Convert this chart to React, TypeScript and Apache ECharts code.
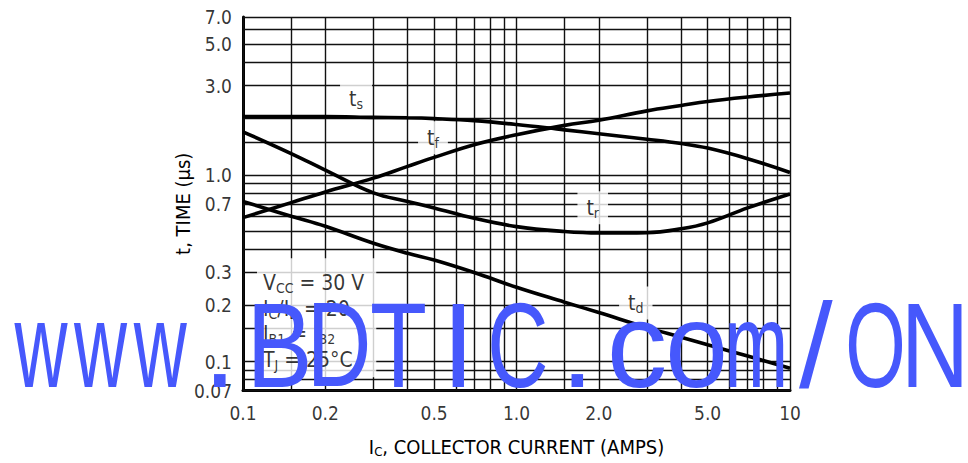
import React, { useEffect, useRef } from 'react';
import * as echarts from 'echarts';

// ---- data ----
const xGrid = [0.1, 0.15, 0.2, 0.3, 0.4, 0.5, 0.6, 0.7, 0.8, 0.9, 1, 1.5, 2, 3, 4, 5, 6, 7, 8, 9, 10];
const yGrid = [0.07, 0.08, 0.09, 0.1, 0.15, 0.2, 0.3, 0.4, 0.5, 0.6, 0.7, 0.8, 0.9, 1, 1.5, 2, 3, 4, 5, 6, 7];
const xTickLabels = ['0.1', '0.2', '0.5', '1.0', '2.0', '5.0', '10'];
const yTickLabels = ['0.07', '0.1', '0.2', '0.3', '0.7', '1.0', '3.0', '5.0', '7.0'];

const current = [0.1, 0.15, 0.2, 0.3, 0.4, 0.5, 0.7, 1, 1.5, 2, 3, 4, 5, 7, 10];
const tS = [2.05, 2.05, 2.05, 2.03, 2.02, 2.0, 1.95, 1.86, 1.74, 1.66, 1.55, 1.47, 1.39, 1.22, 1.03];
const tF = [0.59, 0.71, 0.81, 0.96, 1.11, 1.24, 1.45, 1.64, 1.84, 1.96, 2.2, 2.35, 2.47, 2.61, 2.74];
const tR = [1.7, 1.3, 1.06, 0.8, 0.72, 0.665, 0.585, 0.528, 0.497, 0.488, 0.49, 0.514, 0.553, 0.665, 0.79];
const tD = [0.72, 0.6, 0.53, 0.43, 0.38, 0.35, 0.3, 0.25, 0.208, 0.183, 0.152, 0.135, 0.123, 0.107, 0.092];

// annotation anchors (data coordinates)
const curveNames = ['ts', 'tf', 'tr', 'td'];
const curveLabelX = [0.259, 0.495, 1.9, 2.73];
const curveLabelY = [2.55, 1.58, 0.667, 0.206];
const conditionsAt = [0.1125, 0.357];

const watermark = 'www.BDTIC.com/ON';

const FONT = '"Liberation Sans Narrow", "Arial Narrow", "DejaVu Sans Condensed", "Liberation Sans", sans-serif';
const BLUE = '#4658fc';

function richStyles(size: number, sub: number, drop: number, lh: number) {
  return {
    m: { fontSize: size, fontFamily: FONT, color: '#000', lineHeight: lh },
    s: { fontSize: sub, fontFamily: FONT, color: '#000', lineHeight: sub, padding: [drop, 0, 0, 0] },
  };
}

function pairs(ys: number[]) {
  return current.map((x, i) => [x, ys[i]]);
}

export default function App() {
  const ref = useRef<HTMLDivElement>(null);
  useEffect(() => {
    document.body.style.margin = '0';
    if (!ref.current) return;
    const chart = echarts.init(ref.current, undefined, { renderer: 'svg' });

    const xMin = xGrid[0], xMax = xGrid[xGrid.length - 1];
    const yMin = yGrid[0], yMax = yGrid[yGrid.length - 1];

    // watermark glyph scaling (monospaced look)
    const canvas = document.createElement('canvas');
    const ctx = canvas.getContext('2d')!;
    const wmSize = 121;
    ctx.font = `${wmSize}px "Liberation Sans"`;
    const wmChars = watermark.split('').map((ch, i) => {
      const m = ctx.measureText(ch);
      const ink = (m.actualBoundingBoxLeft || 0) + (m.actualBoundingBoxRight || m.width);
      const s = '.I/'.includes(ch) ? 1 : Math.min(1, 54 / ink);
      return {
        type: 'text',
        x: 41 + 59.6 * i,
        y: 345,
        scaleX: s,
        z: 100,
        silent: true,
        style: {
          text: ch,
          fill: BLUE,
          font: `${wmSize}px "Liberation Sans", Arial, sans-serif`,
          align: 'center',
          verticalAlign: 'middle',
        },
      };
    });

    const curveRich = richStyles(21, 14, 10, 21);
    const labelsSub: Record<string, string> = {
      ts: '{m|t}{s|s}', tf: '{m|t}{s|f}', tr: '{m|t}{s|r}', td: '{m|t}{s|d}',
    };

    const option: any = {
      animation: false,
      backgroundColor: '#fff',
      grid: { left: 243, right: 178, top: 17, bottom: 62, containLabel: false },
      xAxis: {
        type: 'log', logBase: 10, min: xMin, max: xMax,
        axisLine: { show: true, onZero: false, lineStyle: { color: '#000', width: 3 } },
        axisTick: { show: false }, axisLabel: { show: false }, splitLine: { show: false },
        minorTick: { show: false }, minorSplitLine: { show: false },
        name: '{m|I}{s|C}{m|, COLLECTOR CURRENT (AMPS)}',
        nameLocation: 'middle', nameGap: 46,
        nameTextStyle: { rich: richStyles(20, 13, 10, 20) },
      },
      yAxis: {
        type: 'log', logBase: 10, min: yMin, max: yMax,
        axisLine: { show: true, onZero: false, lineStyle: { color: '#000', width: 3 } },
        axisTick: { show: false }, axisLabel: { show: false }, splitLine: { show: false },
        minorTick: { show: false }, minorSplitLine: { show: false },
        name: 't, TIME (\u00b5s)', nameLocation: 'middle', nameGap: 50,
        nameTextStyle: { fontSize: 20, fontFamily: FONT, color: '#000' },
      },
      series: [
        {
          name: 'grid', type: 'line', data: [[xMin, yMin]], symbol: 'none', silent: true, z: 1,
          lineStyle: { opacity: 0 },
          markLine: {
            silent: true, symbol: ['none', 'none'], animation: false, z: 1,
            label: { show: false },
            lineStyle: { color: '#111', width: 1.4, type: 'solid' },
            data: [
              ...xGrid.map((v) => ({ xAxis: v })),
              ...yGrid.map((v) => ({ yAxis: v })),
            ],
          },
        },
        {
          name: 'xTicks', type: 'scatter', symbolSize: 0, silent: true, clip: false, z: 3,
          data: xTickLabels.map((t) => ({ value: [parseFloat(t), yMin], name: t })),
          label: { show: true, position: 'bottom', distance: 13, formatter: '{b}', fontSize: 19, fontFamily: FONT, color: '#000' },
        },
        {
          name: 'yTicks', type: 'scatter', symbolSize: 0, silent: true, clip: false, z: 3,
          data: yTickLabels.map((t) => ({ value: [xMin, parseFloat(t)], name: t })),
          label: { show: true, position: 'left', distance: 11, formatter: '{b}', fontSize: 19, fontFamily: FONT, color: '#000' },
        },
        {
          name: 'notes', type: 'scatter', symbolSize: 0, silent: true, clip: false, z: 3,
          data: curveNames.map((n, i) => ({
            value: [curveLabelX[i], curveLabelY[i]],
            label: {
              show: true, position: 'inside', formatter: labelsSub[n], rich: curveRich,
              backgroundColor: '#fff', padding: [6, 9, 6, 9],
            },
          })),
        },
        {
          name: 'conditions', type: 'scatter', symbolSize: 0, silent: true, clip: false, z: 3,
          data: [{
            value: conditionsAt,
            label: {
              show: true, position: [0, 0], align: 'left', verticalAlign: 'top',
              formatter: [
                '{m|V}{s|CC}{m| = 30 V}',
                '{m|I}{s|C}{m|/I}{s|B}{m| = 20}',
                '{m|I}{s|B1}{m| = I}{s|B2}',
                '{m|T}{s|J}{m| = 25\u00b0C}',
              ].join('\n'),
              rich: richStyles(21, 14, 10, 25.5),
              backgroundColor: '#fff', padding: [12, 12, 5, 6],
            },
          }],
        },
        ...[['ts', tS], ['tf', tF], ['tr', tR], ['td', tD]].map(([n, ys]) => ({
          name: n as string, type: 'line', data: pairs(ys as number[]), smooth: 0.4,
          symbol: 'none', z: 5, silent: true,
          lineStyle: { color: '#000', width: 3.6 },
        })),
      ],
      graphic: { elements: wmChars },
    };
    chart.setOption(option);
    return () => chart.dispose();
  }, []);
  return <div ref={ref} style={{ width: 968, height: 463 }} />;
}
